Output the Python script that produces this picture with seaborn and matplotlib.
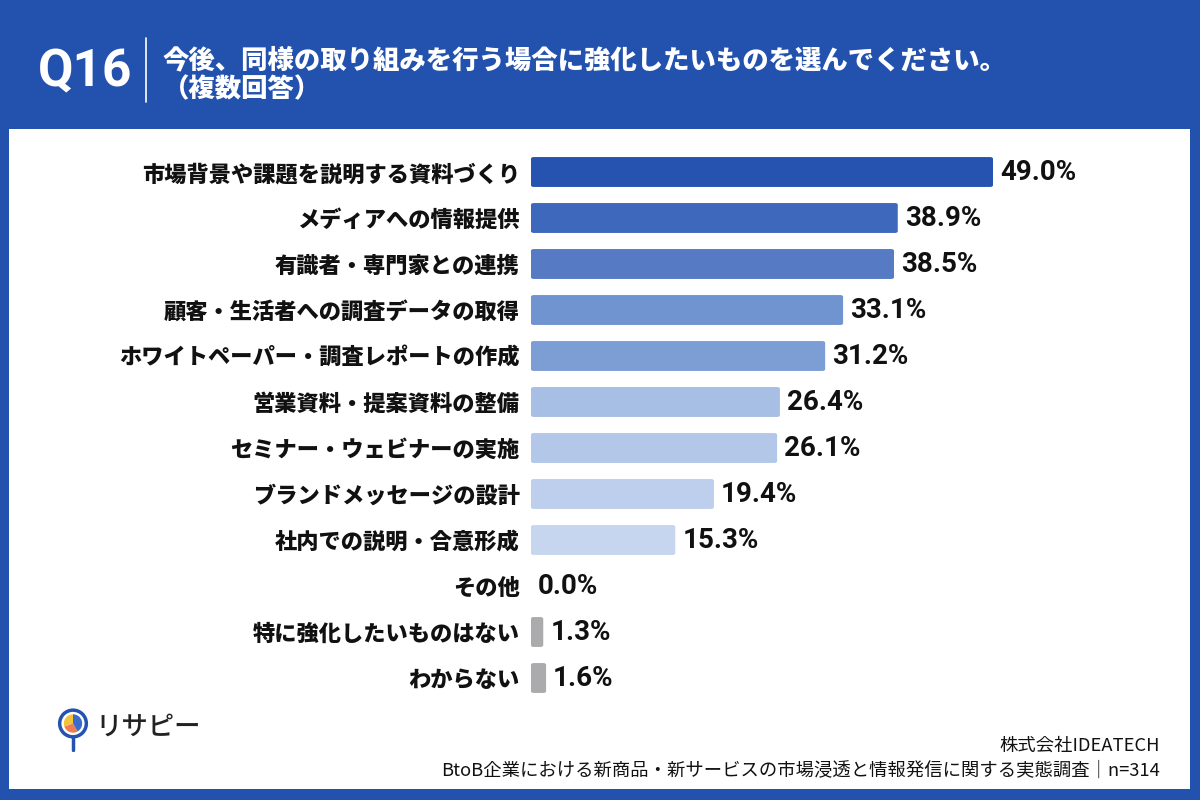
import matplotlib
matplotlib.use("Agg")
import matplotlib.pyplot as plt
import seaborn as sns
import pandas as pd
from matplotlib.patches import Rectangle, Circle, Wedge, FancyBboxPatch
from matplotlib.lines import Line2D

categories = [
    "市場背景や課題を説明する資料づくり",
    "メディアへの情報提供",
    "有識者・専門家との連携",
    "顧客・生活者への調査データの取得",
    "ホワイトペーパー・調査レポートの作成",
    "営業資料・提案資料の整備",
    "セミナー・ウェビナーの実施",
    "ブランドメッセージの設計",
    "社内での説明・合意形成",
    "その他",
    "特に強化したいものはない",
    "わからない",
]
values = [49.0, 38.9, 38.5, 33.1, 31.2, 26.4, 26.1, 19.4, 15.3, 0.0, 1.3, 1.6]
value_labels = ["49.0%", "38.9%", "38.5%", "33.1%", "31.2%", "26.4%", "26.1%",
                "19.4%", "15.3%", "0.0%", "1.3%", "1.6%"]
colors = ["#2553AF", "#3E68BC", "#567BC4", "#7094CF", "#7C9ED4", "#A7BFE4",
          "#B3C8E8", "#BDCFEC", "#C6D6EF", "#C6D6EF", "#ABABAD", "#ABABAD"]

title_q = "Q16"
title_line1 = "今後、同様の取り組みを行う場合に強化したいものを選んでください。"
title_line2 = "（複数回答）"
footer1 = "株式会社IDEATECH"
footer2 = "BtoB企業における新商品・新サービスの市場浸透と情報発信に関する実態調査｜n=314"
logo_text = "リサピー"

sns.set_theme(style="white")
JP = ["Noto Sans CJK JP", "DejaVu Sans"]
NUM = ["Roboto", "DejaVu Sans"]
plt.rcParams["font.family"] = JP

BLUE = "#2352AE"
fig = plt.figure(figsize=(12, 8), dpi=100)
fig.patch.set_facecolor(BLUE)

# white panel
fig.patches.append(Rectangle((9 / 1200, 1 - 789 / 800), (1190 - 9) / 1200, (789 - 129) / 800,
                             transform=fig.transFigure, facecolor="white", edgecolor="none", zorder=-5))

ax = fig.add_axes([531 / 1200, 1 - 701 / 800, (1160 - 531) / 1200, 552 / 800])
ax.set_facecolor("none")
ax.set_zorder(2)
df = pd.DataFrame({"cat": categories, "val": values})
sns.barplot(data=df, x="val", y="cat", hue="cat", palette=dict(zip(categories, colors)),
            legend=False, width=0.65, ax=ax, saturation=1)

scale = 462 / 49.0
ax.set_xlim(0, (1160 - 531) / scale)
ax.set_ylim(11.5, -0.5)

# rounded bars
for p in list(ax.patches):
    x, y = p.get_x(), p.get_y()
    w, h = p.get_width(), p.get_height()
    fc = p.get_facecolor()
    p.remove()
    if w <= 0:
        continue
    fb = FancyBboxPatch((x, y), w, h, boxstyle="round,pad=0,rounding_size=0.3",
                        mutation_aspect=0.12,
                        facecolor=fc, edgecolor="none")
    ax.add_patch(fb)

for i, (v, lab) in enumerate(zip(values, value_labels)):
    ax.text(v + 0.75, i, lab, va="center", ha="left", fontsize=20, fontweight="bold",
            color="#111111", family=NUM)

ax.set_xlabel("")
ax.set_ylabel("")
ax.set_xticks([])
ax.tick_params(axis="y", length=0, pad=8)
ax.set_yticks(range(len(categories)))
ax.set_yticklabels(categories, fontsize=16, fontweight="black", color="#111111", family=JP)
for s in ax.spines.values():
    s.set_visible(False)

# header
fig.text(38 / 1200, 1 - 72 / 800, title_q, color="white", fontsize=37, fontweight="bold",
         va="center", ha="left", family=NUM)
fig.add_artist(Line2D([146 / 1200, 146 / 1200], [1 - 38 / 800, 1 - 102 / 800],
                      transform=fig.transFigure, color="white", lw=1.2))
fig.text(163 / 1200, 1 - 60 / 800, title_line1, color="white", fontsize=19, fontweight="black",
         va="center", ha="left", family=JP)
fig.text(163 / 1200, 1 - 89 / 800, title_line2, color="white", fontsize=19, fontweight="black",
         va="center", ha="left", family=JP)

# footer
fig.text(1160 / 1200, 1 - 746 / 800, footer1, color="#111111", fontsize=13.2,
         va="center", ha="right", family=JP)
fig.text(1160 / 1200, 1 - 771 / 800, footer2, color="#111111", fontsize=13.2,
         va="center", ha="right", family=JP)

# logo
lax = fig.add_axes([50 / 1200, 1 - 752 / 800, 46 / 1200, 46 / 800])
lax.set_zorder(3)
lax.set_xlim(0, 1)
lax.set_ylim(0, 1)
lax.set_aspect("equal")
lax.axis("off")
lax.add_patch(Wedge((0.5, 0.62), 0.20, 90, 200, facecolor="#F4C33A", edgecolor="none"))
lax.add_patch(Wedge((0.5, 0.62), 0.20, 200, 300, facecolor="#EE7E52", edgecolor="none"))
lax.add_patch(Wedge((0.5, 0.62), 0.20, 300, 450, facecolor="#3B6CC8", edgecolor="none"))
lax.add_patch(Circle((0.5, 0.62), 0.29, facecolor="none", edgecolor="#2452B0", lw=2.5))
lax.plot([0.5, 0.5], [0.33, 0.05], color="#2452B0", lw=2.5, solid_capstyle="round")
fig.text(95 / 1200, 1 - 727 / 800, logo_text, color="#222222", fontsize=19, fontweight="medium",
         va="center", ha="left", family=JP)

fig.savefig("out.png", dpi=100, facecolor=fig.get_facecolor())
